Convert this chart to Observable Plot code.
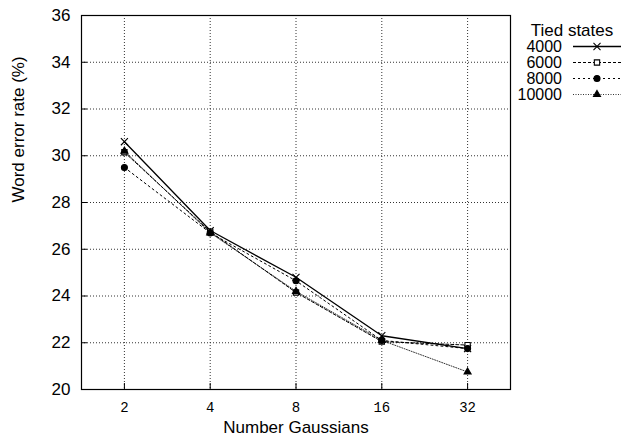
<!DOCTYPE html>
<html><head><meta charset="utf-8">
<script src="https://cdn.jsdelivr.net/npm/d3@7"></script>
<script src="https://cdn.jsdelivr.net/npm/@observablehq/plot@0.6"></script>
<style>
body{margin:0;background:#fff}
#wrap{position:relative;width:623px;height:446px}
#legend{position:absolute;left:0;top:0;pointer-events:none}
</style>
</head><body><div id="wrap"></div>
<script>
// ---- data ----
const gaussians = [2, 4, 8, 16, 32];
const seriesNames = ["4000", "6000", "8000", "10000"];
const s4000  = [30.6, 26.8, 24.8, 22.3, 21.75];
const s6000  = [30.15, 26.75, 24.15, 22.05, 21.9];
const s8000  = [29.5, 26.7, 24.65, 22.1, 21.75];
const s10000 = [30.2, 26.7, 24.2, 22.1, 20.75];
const yTicks = [20, 22, 24, 26, 28, 30, 32, 34, 36];
const xTicks = [2, 4, 8, 16, 32];
const xTitle = "Number Gaussians";
const yTitle = "Word error rate (%)";
const legendTitle = "Tied states";

// ---- styles ----
const styles = {
  "4000":  {dash: null,    symbol: "times",    fill: "none",  width: 1.3, r: 3.3},
  "6000":  {dash: "3,2",   symbol: "square",   fill: "white", width: 1,   r: 3.0},
  "8000":  {dash: "2,3",   symbol: "circle",   fill: "black", width: 1,   r: 3.0},
  "10000": {dash: "1,1.5", symbol: "triangle", fill: "black", width: 0.8, r: 2.6}
};
const values = {"4000": s4000, "6000": s6000, "8000": s8000, "10000": s10000};
const rows = seriesNames.flatMap(s => gaussians.map((g, i) => ({s, g, v: values[s][i]})));

const font = "Liberation Sans, Arial, Helvetica, sans-serif";
const W = 623, H = 446, mL = 81, mR = 113, mT = 15, mB = 57;

const marks = [
  Plot.gridX(xTicks, {stroke: "#333", strokeOpacity: 1, strokeDasharray: "1,2"}),
  Plot.gridY(yTicks.slice(1, -1), {stroke: "#333", strokeOpacity: 1, strokeDasharray: "1,2"}),
  Plot.axisX(xTicks, {tickSize: -6, tickPadding: 19, tickFormat: d => String(d),
    fontFamily: "Liberation Mono, DejaVu Sans Mono, monospace", fontSize: 14, label: null}),
  Plot.axisY(yTicks, {tickSize: -6, tickPadding: 17, fontSize: 17, label: null}),
  Plot.text([xTitle], {frameAnchor: "bottom", lineAnchor: "middle", dy: 38, fontSize: 17, fontFamily: font, fill: "black"}),
  Plot.text([yTitle], {frameAnchor: "left", dx: -63, rotate: -90, fontSize: 17, fontFamily: font, fill: "black"}),
  Plot.frame({stroke: "black", strokeWidth: 1.2})
];
for (const s of seriesNames) {
  const st = styles[s];
  const data = rows.filter(d => d.s === s);
  marks.push(Plot.line(data, {x: "g", y: "v", stroke: "black", strokeWidth: st.width, strokeDasharray: st.dash}));
}
for (const s of seriesNames) {
  const st = styles[s];
  const data = rows.filter(d => d.s === s);
  marks.push(Plot.dot(data, {x: "g", y: "v", symbol: st.symbol, r: st.r,
    fill: st.fill, stroke: "black", strokeWidth: 1.1}));
}

const chart = Plot.plot({
  width: W, height: H, marginLeft: mL, marginRight: mR, marginTop: mT, marginBottom: mB,
  style: {fontFamily: font, fontSize: "17px", background: "white", color: "black", overflow: "visible"},
  x: {type: "log", base: 2, domain: [Math.SQRT2, 32 * Math.SQRT2]},
  y: {domain: [20, 36]},
  marks
});
const wrap = document.getElementById("wrap");
wrap.appendChild(chart);

// ---- legend (drawn outside the plot area) ----
const leg = d3.select(wrap).append("svg").attr("id", "legend").attr("width", W).attr("height", H)
  .style("font-family", font).style("font-size", "16px");
leg.append("text").attr("x", 572).attr("y", 30).attr("dy", "0.35em")
  .attr("text-anchor", "middle").style("font-size", "17px").text(legendTitle);
const symMap = {times: d3.symbolTimes, square: d3.symbolSquare, circle: d3.symbolCircle, triangle: d3.symbolTriangle};
seriesNames.forEach((s, i) => {
  const st = styles[s];
  const y = 46.5 + i * 16;
  leg.append("text").attr("x", 562).attr("y", y).attr("dy", "0.35em").attr("text-anchor", "end").text(s);
  leg.append("line").attr("x1", 573).attr("x2", 621).attr("y1", y).attr("y2", y)
    .attr("stroke", "black").attr("stroke-width", st.width).attr("stroke-dasharray", st.dash);
  leg.append("path").attr("transform", `translate(597,${y})`)
    .attr("d", d3.symbol(symMap[st.symbol], Math.PI * st.r * st.r)())
    .attr("fill", st.fill).attr("stroke", "black").attr("stroke-width", 1.1);
});
</script>
</body></html>
